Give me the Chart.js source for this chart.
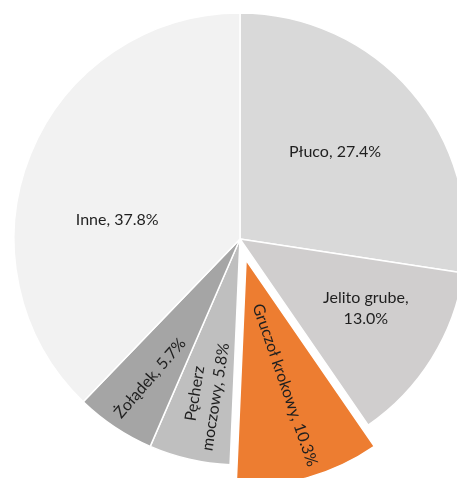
<!DOCTYPE html>
<html>
<head>
<meta charset="utf-8">
<script src="https://cdn.jsdelivr.net/npm/chart.js@4"></script>
<style>
  html, body { margin: 0; padding: 0; background: #fff; }
  #wrap { position: relative; width: 457px; height: 479px; overflow: hidden; }
  #chart { position: absolute; left: 0; top: 0; }
</style>
</head>
<body>
<div id="wrap"><canvas id="chart" width="480" height="478"></canvas></div>
<script>
const categories = ["Płuco", "Jelito grube", "Gruczoł krokowy", "Pęcherz moczowy", "Żołądek", "Inne"];
const shares = [27.4, 13.0, 10.3, 5.8, 5.7, 37.8];
const labelLines = [
  ["Płuco, 27.4%"],
  ["Jelito grube,", "13.0%"],
  ["Gruczoł krokowy, 10.3%"],
  ["Pęcherz", "moczowy, 5.8%"],
  ["Żołądek, 5.7%"],
  ["Inne, 37.8%"]
];

const COLORS = ["#d9d9d9", "#d0cece", "#ed7d31", "#bfbfbf", "#a5a5a5", "#f2f2f2"];
const EXPLODE = [0, 0, 22, 0, 0, 0]; // px the slice is pulled out (keeps radius, like Excel)
// label placement: fraction of radius, angle tweak (deg), text rotation (deg)
const LABEL_POS = [
  { r: 0.57, da: -1.8, rot: 0 },
  { r: 0.635, da: -3.3, rot: 0 },
  { r: 0.579, da: -1.3, rot: 71 },
  { r: 0.708, da: -0.4, rot: -81 },
  { r: 0.733, da: -0.8, rot: -49 },
  { r: 0.55, da: -13, rot: 0 }
];

// move exploded slices out along their middle angle
const explodePlugin = {
  id: "explode",
  afterDatasetsUpdate(chart) {
    chart.getDatasetMeta(0).data.forEach((arc, i) => {
      const d = EXPLODE[i];
      if (!d) return;
      const mid = (arc.startAngle + arc.endAngle) / 2;
      arc.x += Math.cos(mid) * d;
      arc.y += Math.sin(mid) * d;
    });
  }
};

const labelPlugin = {
  id: "sliceLabels",
  afterDatasetsDraw(chart) {
    const { ctx } = chart;
    const meta = chart.getDatasetMeta(0);
    ctx.save();
    ctx.font = "16px Lato";
    ctx.fillStyle = "#1f1f1f";
    ctx.textAlign = "center";
    ctx.textBaseline = "middle";
    meta.data.forEach((arc, i) => {
      const p = arc.getProps(["x", "y", "startAngle", "endAngle", "outerRadius"], true);
      const mid = (p.startAngle + p.endAngle) / 2;
      const lp = LABEL_POS[i];
      const a = mid + lp.da * Math.PI / 180;
      const lx = p.x + Math.cos(a) * p.outerRadius * lp.r;
      const ly = p.y + Math.sin(a) * p.outerRadius * lp.r;
      const lines = labelLines[i];
      const lh = 21;
      ctx.save();
      ctx.translate(lx, ly);
      ctx.rotate(lp.rot * Math.PI / 180);
      lines.forEach((t, k) => {
        ctx.fillText(t, 0, (k - (lines.length - 1) / 2) * lh);
      });
      ctx.restore();
    });
    ctx.restore();
  }
};

new Chart(document.getElementById("chart"), {
  type: "pie",
  data: {
    labels: categories,
    datasets: [{
      data: shares,
      backgroundColor: COLORS,
      borderColor: "#ffffff",
      borderWidth: 1.5,
      radius: 226
    }]
  },
  options: {
    responsive: false,
    animation: false,
    layout: { padding: 0 },
    plugins: {
      legend: { display: false },
      tooltip: { enabled: false }
    }
  },
  plugins: [explodePlugin, labelPlugin]
});
</script>
</body>
</html>
